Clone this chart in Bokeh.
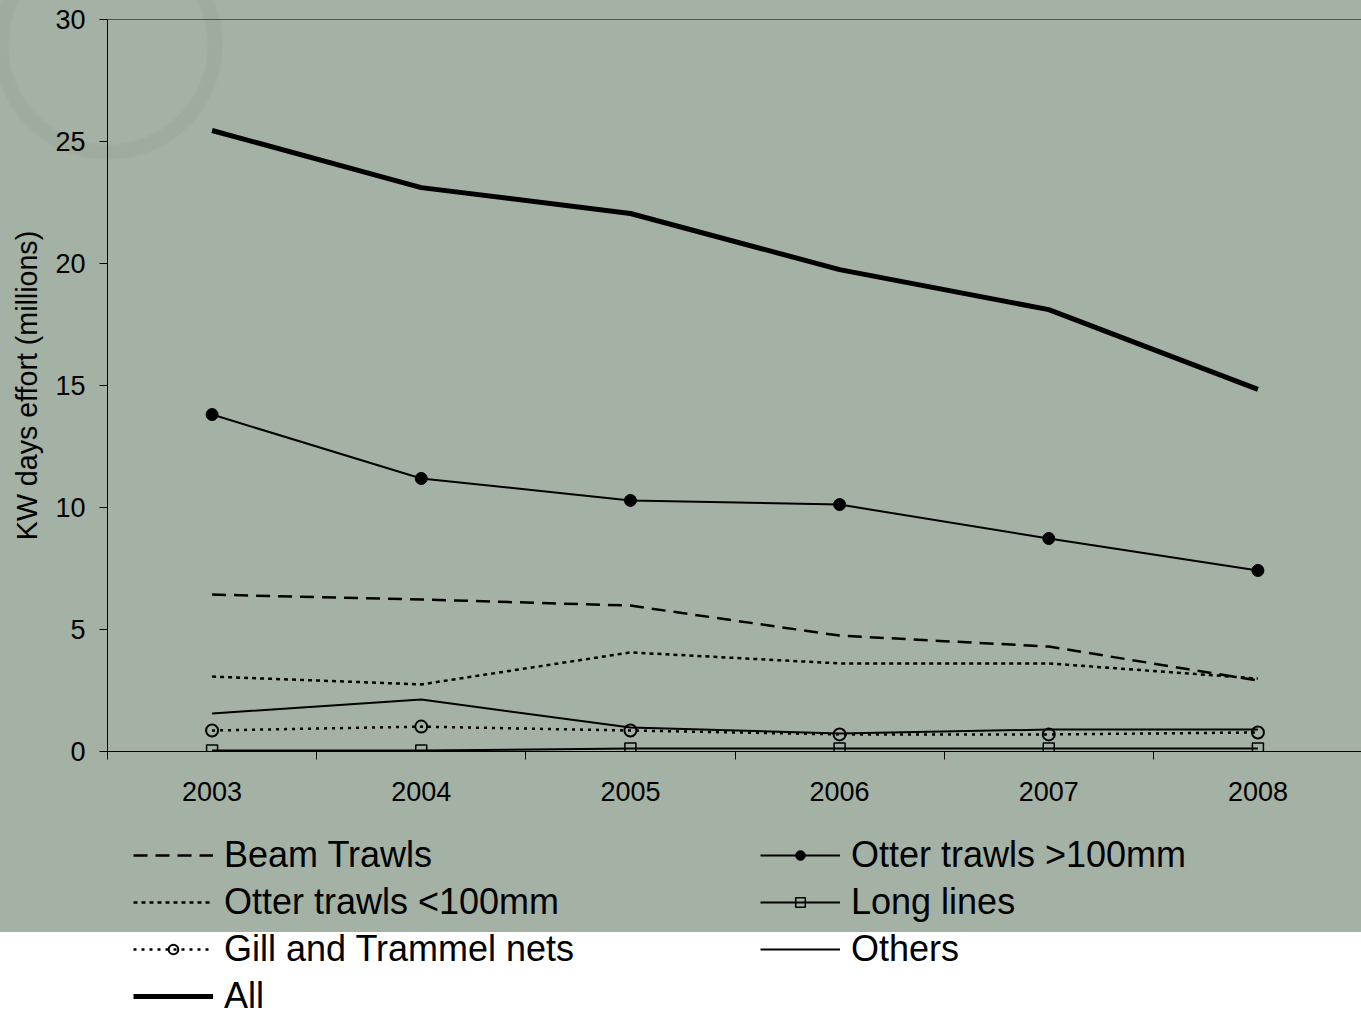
from bokeh.plotting import figure
from bokeh.models import FixedTicker, Legend, LegendItem, Span, Range1d
from bokeh.layouts import column
from bokeh.embed import file_html
from bokeh.resources import INLINE

# ---- data ----
years = [2003, 2004, 2005, 2006, 2007, 2008]
beam_trawls = [6.43, 6.23, 5.98, 4.75, 4.30, 2.91]
otter_gt100 = [13.81, 11.19, 10.29, 10.12, 8.73, 7.42]
otter_lt100 = [3.07, 2.75, 4.06, 3.61, 3.61, 2.99]
long_lines = [0.04, 0.04, 0.12, 0.12, 0.12, 0.12]
gill_trammel = [0.86, 1.02, 0.86, 0.70, 0.70, 0.78]
others = [1.56, 2.13, 0.98, 0.74, 0.90, 0.90]
all_gears = [25.45, 23.11, 22.05, 19.75, 18.11, 14.84]
y_ticks = [0, 5, 10, 15, 20, 25, 30]
year_bounds = [2002.5, 2003.5, 2004.5, 2005.5, 2006.5, 2007.5, 2008.5]
y_title = "KW days effort (millions)"

FONT = "Liberation Sans"
BG = "#a4b1a5"

# ---- styles per series ----
styles = {
    "beam": dict(line_color="black", line_width=2.5, line_dash="14 8"),
    "otl": dict(line_color="black", line_width=2.5, line_dash="4 4"),
    "oth": dict(line_color="black", line_width=2),
    "gill": dict(line_color="black", line_width=2.5, line_dash="3 5"),
    "long": dict(line_color="black", line_width=2),
    "otg": dict(line_color="black", line_width=2),
    "all": dict(line_color="black", line_width=5),
}
mstyles = {
    "gill": dict(marker="circle", size=12, fill_color=None, line_color="black", line_width=2),
    "long": dict(marker="square", size=11, fill_color=None, line_color="black", line_width=1.5),
    "otg": dict(marker="circle", size=12, fill_color="black", line_color="black"),
}

TOP_H = 825
p = figure(width=1361, height=TOP_H,
           x_range=Range1d(2002.5, 2008.5 - 6.0 / 1254), y_range=Range1d(0, 30),
           output_backend="svg", toolbar_location=None,
           min_border_left=107, min_border_right=0, min_border_top=19, min_border_bottom=TOP_H - 751,
           background_fill_color=None, border_fill_color=None, outline_line_color=None)

p.styles = {
    "background": (
        "radial-gradient(circle at 108px 45px, rgba(0,0,0,0) 98px, rgba(0,0,0,0.035) 101px, "
        "rgba(0,0,0,0.035) 113px, rgba(0,0,0,0) 116px), "
        f"{BG}"
    )
}

p.grid.visible = False

xa = p.xaxis[0]
xa.ticker = FixedTicker(ticks=years, minor_ticks=year_bounds)
xa.major_tick_line_color = None
xa.major_tick_in = 0
xa.major_tick_out = 0
xa.minor_tick_in = 0
xa.minor_tick_out = 8
xa.minor_tick_line_color = "black"
xa.axis_line_color = "black"
xa.major_label_text_font = FONT
xa.major_label_text_font_size = "27px"
xa.major_label_text_color = "black"
xa.major_label_standoff = 22

ya = p.yaxis[0]
ya.ticker = FixedTicker(ticks=y_ticks)
ya.minor_tick_line_color = None
ya.major_tick_in = 0
ya.major_tick_out = 8
ya.major_tick_line_color = "black"
ya.axis_line_color = "black"
ya.major_label_text_font = FONT
ya.major_label_text_font_size = "27px"
ya.major_label_text_color = "black"
ya.major_label_standoff = 14
ya.axis_label = y_title
ya.axis_label_text_font = FONT
ya.axis_label_text_font_size = "28.6px"
ya.axis_label_text_font_style = "normal"
ya.axis_label_text_color = "black"
ya.axis_label_standoff = 9

p.add_layout(Span(location=30, dimension="width", line_color="black", line_width=1))

p.line(years, beam_trawls, **styles["beam"])
p.line(years, otter_lt100, **styles["otl"])
p.line(years, others, **styles["oth"])
p.line(years, gill_trammel, **styles["gill"])
p.scatter(years, gill_trammel, **mstyles["gill"])
p.line(years, long_lines, **styles["long"])
p.scatter(years, long_lines, **mstyles["long"])
p.line(years, otter_gt100, **styles["otg"])
p.scatter(years, otter_gt100, **mstyles["otg"])
p.line(years, all_gears, **styles["all"])

# ---- legend panel (second figure, same styles; its frame is aligned with the chart's) ----
LEG_H = 1014 - TOP_H
FRAME_LEFT = 107
ROW_H = 47
LEG_TOP = 831
q = figure(width=1361, height=LEG_H, x_range=Range1d(0, 1), y_range=Range1d(0, 1),
           output_backend="svg", toolbar_location=None,
           x_axis_location=None, y_axis_location=None,
           min_border_left=FRAME_LEFT, min_border_right=0, min_border_top=0, min_border_bottom=0,
           background_fill_color=None, border_fill_color=None, outline_line_color=None)
q.grid.visible = False
q.styles = {"background": f"linear-gradient(to bottom, {BG} 0px, {BG} {932 - TOP_H}px, #ffffff {932 - TOP_H}px, #ffffff 100%)"}

# legend-only renderers: a single point outside the visible range, so nothing is drawn in the panel
def dummy_line(key):
    return q.line([-1], [-1], **styles[key])

def dummy_marker(key):
    return q.scatter([-1], [-1], **mstyles[key])

leg_common = dict(orientation="vertical", glyph_width=80, glyph_height=24, label_height=ROW_H,
                  label_standoff=11, spacing=0, padding=0, margin=0,
                  border_line_color=None, background_fill_color=None, background_fill_alpha=0,
                  label_text_font=FONT, label_text_font_size="36px", label_text_color="black")

leg1 = Legend(items=[
    LegendItem(label="Beam Trawls", renderers=[dummy_line("beam")]),
    LegendItem(label="Otter trawls <100mm", renderers=[dummy_line("otl")]),
    LegendItem(label="Gill and Trammel nets", renderers=[dummy_line("gill"), dummy_marker("gill")]),
    LegendItem(label="All", renderers=[dummy_line("all")]),
], location=(133 - FRAME_LEFT, LEG_H - (LEG_TOP - TOP_H) - 4 * ROW_H), **leg_common)
leg2 = Legend(items=[
    LegendItem(label="Otter trawls >100mm", renderers=[dummy_line("otg"), dummy_marker("otg")]),
    LegendItem(label="Long lines", renderers=[dummy_line("long"), dummy_marker("long")]),
    LegendItem(label="Others", renderers=[dummy_line("oth")]),
], location=(760 - FRAME_LEFT, LEG_H - (LEG_TOP - TOP_H) - 3 * ROW_H), **leg_common)
q.add_layout(leg1)
q.add_layout(leg2)

layout = column(p, q, spacing=0)
open("out.html", "w").write(file_html(layout, INLINE))
